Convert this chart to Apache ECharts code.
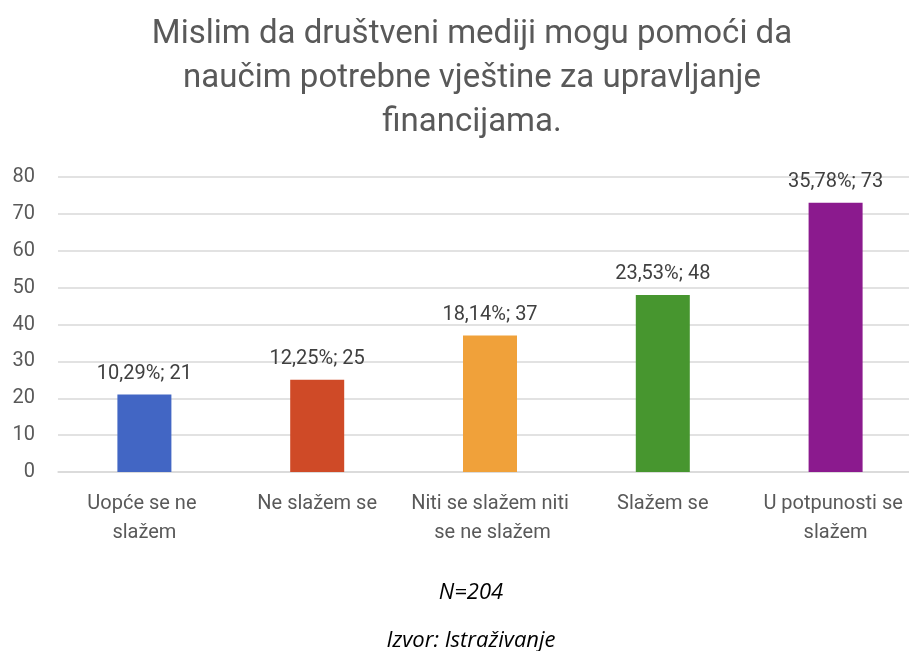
<!DOCTYPE html>
<html>
<head>
<meta charset="utf-8">
<script src="https://cdn.jsdelivr.net/npm/echarts@6/dist/echarts.min.js"></script>
<style>
  html, body { margin: 0; padding: 0; background: #fff; }
  #chart { width: 909px; height: 651px; }
</style>
</head>
<body>
<div id="chart"></div>
<script>
const categories = ['Uopće se ne slažem', 'Ne slažem se', 'Niti se slažem niti se ne slažem', 'Slažem se', 'U potpunosti se slažem']
const counts = [21, 25, 37, 48, 73]
const percents = ['10,29%', '12,25%', '18,14%', '23,53%', '35,78%']
const barColors = ['#4266C4', '#CF4A27', '#F0A13A', '#47962F', '#8B1A8E']
const yTicks = { min: 0, max: 80, interval: 10 }

const chart = echarts.init(document.getElementById('chart'))
const option = {
  animation: false,
  title: [
    {
      text: 'Mislim da društveni mediji mogu pomoći da\nnaučim potrebne vještine za upravljanje\nfinancijama.',
      left: 467,
      top: 8,
      textAlign: 'center',
      textStyle: {
        fontFamily: 'Roboto, sans-serif',
        fontSize: 33,
        fontWeight: 'normal',
        color: '#595959',
        lineHeight: 44
      }
    },
    {
      text: 'N=204',
      left: 466,
      top: 577,
      textAlign: 'center',
      textStyle: { fontFamily: '"Open Sans", sans-serif', fontStyle: 'italic', fontSize: 22, fontWeight: 'normal', color: '#000' }
    },
    {
      text: 'Izvor: Istraživanje',
      left: 466,
      top: 625,
      textAlign: 'center',
      textStyle: { fontFamily: '"Open Sans", sans-serif', fontStyle: 'italic', fontSize: 22, fontWeight: 'normal', color: '#000' }
    }
  ],
  grid: {
    left: 58,
    width: 864,
    top: 177,
    height: 295,
    outerBoundsMode: 'none',
    containLabel: false
  },
  xAxis: {
    type: 'category',
    data: categories,
    axisLine: { show: true, lineStyle: { color: '#d9d9d9', width: 1.5 } },
    axisTick: { show: false },
    axisLabel: {
      color: '#595959',
      fontFamily: 'Roboto, sans-serif',
      fontSize: 20,
      lineHeight: 29,
      margin: 17,
      width: 168,
      overflow: 'break',
      interval: 0
    }
  },
  yAxis: {
    type: 'value',
    min: yTicks.min,
    max: yTicks.max,
    interval: yTicks.interval,
    axisLine: { show: false },
    axisTick: { show: false },
    splitLine: { lineStyle: { color: '#d9d9d9', width: 1.5 } },
    axisLabel: {
      color: '#595959',
      fontFamily: 'Roboto, sans-serif',
      fontSize: 20,
      margin: 23
    }
  },
  series: [
    {
      type: 'bar',
      barWidth: 54,
      data: counts.map((v, i) => ({ value: v, itemStyle: { color: barColors[i] } })),
      label: {
        show: true,
        position: 'top',
        distance: 11,
        color: '#404040',
        fontFamily: 'Roboto, sans-serif',
        fontSize: 20,
        formatter: p => percents[p.dataIndex] + '; ' + p.value
      }
    }
  ]
}
chart.setOption(option)
</script>
</body>
</html>
